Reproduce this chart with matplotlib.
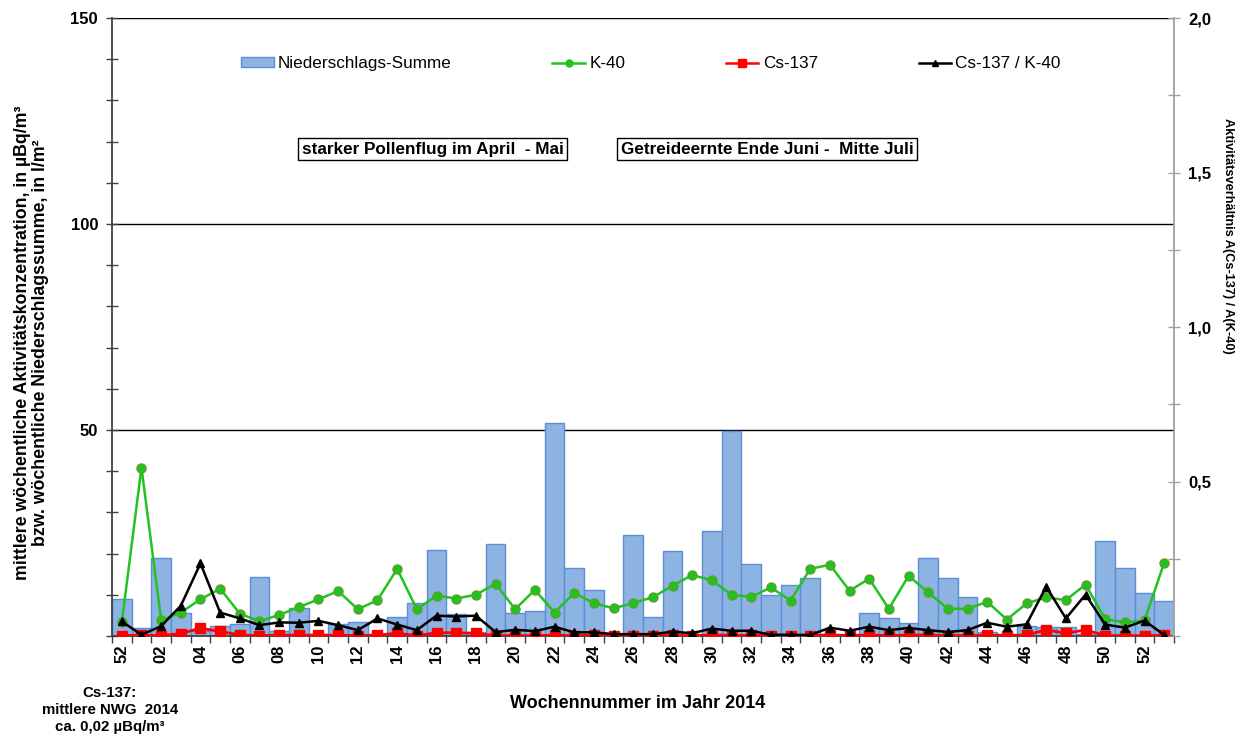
import numpy as np
import matplotlib
matplotlib.use("Agg")
import matplotlib.pyplot as plt
from matplotlib.lines import Line2D
from matplotlib.patches import Patch

plt.rcParams['font.family'] = ['Liberation Sans', 'DejaVu Sans']

weeks = ["52"] + [f"{w:02d}" for w in range(1, 54)]
precip = [9.1, 1.9, 18.9, 5.5, 1.2, 2.5, 2.9, 14.4, 1.1, 6.7,
          0.5, 2.8, 3.5, 0.5, 4.6, 7.9, 20.9, 5.3, 1.0, 22.3,
          5.5, 6.1, 51.8, 16.4, 11.1, 0.3, 24.4, 4.6, 20.6, 0.3,
          25.6, 49.8, 17.4, 10.0, 12.3, 14.1, 0.5, 0.5, 5.5, 4.3,
          3.2, 18.9, 14.1, 9.4, 1.0, 0.5, 2.4, 2.3, 2.2, 0.5,
          23.0, 16.4, 10.5, 8.5]
k40 = [3.3, 40.9, 3.8, 5.7, 8.9, 11.5, 5.4, 3.6, 5.1, 7.0,
       8.9, 10.9, 6.5, 8.7, 16.3, 6.5, 9.8, 9.1, 10.0, 12.7,
       6.5, 11.2, 5.7, 10.4, 8.0, 6.7, 8.0, 9.4, 12.2, 14.8,
       13.5, 10.0, 9.5, 11.8, 8.6, 16.3, 17.3, 11.0, 13.9, 6.6,
       14.6, 10.6, 6.6, 6.6, 8.3, 4.0, 7.9, 9.4, 8.7, 12.5,
       4.1, 3.3, 3.8, 17.8]
cs137 = [0.1, 0.2, 0.1, 0.6, 1.9, 1.1, 0.25, 0.1, 0.2, 0.2,
         0.2, 0.2, 0.1, 0.2, 0.7, 0.1, 0.8, 0.8, 0.65, 0.1,
         0.1, 0.1, 0.2, 0.1, 0.15, 0.1, 0.1, 0.1, 0.15, 0.1,
         0.25, 0.15, 0.15, 0.1, 0.1, 0.1, 0.25, 0.1, 0.25, 0.1,
         0.25, 0.25, 0.1, 0.1, 0.25, 0.1, 0.25, 1.5, 0.65, 1.5,
         0.1, 0.1, 0.1, 0.15]
ratio = [0.047, 0.004, 0.032, 0.098, 0.235, 0.076, 0.057, 0.035, 0.044, 0.043,
         0.049, 0.035, 0.019, 0.057, 0.037, 0.019, 0.066, 0.063, 0.066, 0.013,
         0.020, 0.016, 0.030, 0.012, 0.012, 0.006, 0.006, 0.006, 0.014, 0.009,
         0.024, 0.017, 0.017, 0.004, 0.004, 0.003, 0.027, 0.017, 0.030, 0.019,
         0.026, 0.019, 0.013, 0.019, 0.043, 0.030, 0.038, 0.160, 0.057, 0.134,
         0.037, 0.027, 0.050, 0.003]

x = np.arange(len(weeks))

fig = plt.figure(figsize=(12.47, 7.38), dpi=100)
ax = fig.add_axes([0.0898, 0.1382, 0.8517, 0.8374])
ax2 = ax.twinx()

ax.set_zorder(1)
ax2.set_zorder(2)
ax.patch.set_visible(False)

bar_face = '#8DB3E2'
bar_edge = '#5B8ED6'
green = '#1FC41F'
red = '#FF0000'

for yv in (50, 100, 150):
    ax.axhline(yv, color='black', lw=1.0, zorder=0.5)

ax.bar(x, precip, width=1.0, color=bar_face, edgecolor=bar_edge, linewidth=1.0, zorder=1)
ax.plot(x, k40, color=green, lw=1.8, marker='o', ms=6.5, mfc=green, mec='#5E9E2E', zorder=3)
ax.plot(x, cs137, color=red, lw=2.0, marker='s', ms=6.8, mfc=red, mec=red, zorder=4)
ax2.plot(x, ratio, color='black', lw=1.8, marker='^', ms=5.5, mfc='black', mec='black', zorder=5)

ax.set_xlim(-0.5, len(weeks) - 0.5)
ax.set_ylim(0, 150)
ax2.set_ylim(0, 2.0)

# left axis ticks
ax.set_yticks(np.arange(0, 151, 10))
ax.set_yticklabels(['' if v % 50 or v == 0 else str(v) for v in range(0, 151, 10)],
                   fontsize=12, fontweight='bold')
ax.tick_params(axis='y', direction='inout', length=8, width=1.0, color='#404040', pad=6)

# right axis ticks
rt = np.arange(0, 2.01, 0.25)
ax2.set_yticks(rt)
ax2.set_yticklabels(['' if (abs(v * 2 - round(v * 2)) > 1e-6 or v == 0) else f"{v:.1f}".replace('.', ',') for v in rt],
                    fontsize=12, fontweight='bold')
ax2.tick_params(axis='y', direction='inout', length=8, width=1.0, color='#A0A0A0', pad=6)

# x ticks
ax.set_xticks(np.arange(-0.5, len(weeks), 1.0), minor=True)
ax.set_xticks(x[::2])
ax.set_xticklabels(weeks[::2], rotation=90, fontsize=12, fontweight='bold')
ax.tick_params(axis='x', which='major', length=0, pad=6)
ax.tick_params(axis='x', which='minor', direction='out', length=5, width=1.0, color='#404040')
ax2.tick_params(axis='x', which='both', length=0)

for a in (ax, ax2):
    a.spines['top'].set_visible(False)
ax.spines['left'].set_color('#404040')
ax.spines['left'].set_linewidth(1.3)
ax.spines['bottom'].set_color('#404040')
ax.spines['bottom'].set_linewidth(1.3)
ax.spines['right'].set_visible(False)
ax2.spines['left'].set_visible(False)
ax2.spines['bottom'].set_visible(False)
ax2.spines['right'].set_color('#A0A0A0')
ax2.spines['right'].set_linewidth(1.3)

# axis labels
fig.text(0.025, 0.535, "mittlere wöchentliche Aktivitätskonzentration, in µBq/m³\nbzw. wöchentliche Niederschlagssumme, in l/m²",
         rotation=90, ha='center', va='center', fontsize=12.8, fontweight='bold', linespacing=1.1)
fig.text(0.985, 0.68, "Aktivitätsverhältnis A(Cs-137) / A(K-40)",
         rotation=-90, ha='center', va='center', fontsize=9.2, fontweight='bold')
fig.text(0.511, 0.047, "Wochennummer im Jahr 2014", ha='center', va='center',
         fontsize=13, fontweight='bold')
fig.text(0.088, 0.038, "Cs-137:\nmittlere NWG  2014\nca. 0,02 µBq/m³", ha='center', va='center',
         fontsize=10.8, fontweight='bold', linespacing=1.3)

# annotation boxes
box = dict(boxstyle='square,pad=0.2', facecolor='white', edgecolor='black', linewidth=1.0)
fig.text(0.347, 0.798, "starker Pollenflug im April  - Mai", ha='center', va='center',
         fontsize=12.3, fontweight='bold', bbox=box)
fig.text(0.615, 0.798, "Getreideernte Ende Juni -  Mitte Juli", ha='center', va='center',
         fontsize=12.3, fontweight='bold', bbox=box)

# legend
handles = [
    Patch(facecolor=bar_face, edgecolor=bar_edge, linewidth=1.0),
    Line2D([], [], color=green, lw=1.8, marker='o', ms=5, mfc=green, mec=green),
    Line2D([], [], color=red, lw=1.8, marker='s', ms=6, mfc=red, mec=red),
    Line2D([], [], color='black', lw=1.8, marker='^', ms=5, mfc='black', mec='black'),
]
labels = ["Niederschlags-Summe", "K-40", "Cs-137", "Cs-137 / K-40"]
fig.legend(handles, labels, loc='center left', bbox_to_anchor=(0.181, 0.914), ncol=4,
           frameon=False, fontsize=12.3, columnspacing=5.9, handlelength=1.9,
           handletextpad=0.25, handleheight=0.5)

fig.savefig("out.png", dpi=100)
